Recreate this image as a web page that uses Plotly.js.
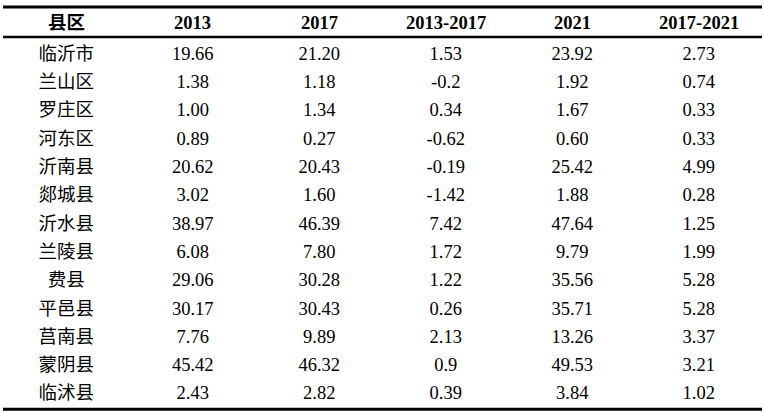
<!DOCTYPE html>
<html>
<head>
<meta charset="utf-8">
<script src="https://cdn.plot.ly/plotly-3.0.1.min.js"></script>
<style>html,body{margin:0;padding:0;background:#fff;}#chart{width:764px;height:412px;}</style>
</head>
<body>
<div id="chart"></div>
<script>
const headers = ['县区', '2013', '2017', '2013-2017', '2021', '2017-2021'];
const regions = ['临沂市', '兰山区', '罗庄区', '河东区', '沂南县', '郯城县', '沂水县', '兰陵县', '费县', '平邑县', '莒南县', '蒙阴县', '临沭县'];
const v2013 = [19.66, 1.38, 1.00, 0.89, 20.62, 3.02, 38.97, 6.08, 29.06, 30.17, 7.76, 45.42, 2.43];
const v2017 = [21.20, 1.18, 1.34, 0.27, 20.43, 1.60, 46.39, 7.80, 30.28, 30.43, 9.89, 46.32, 2.82];
const d2013_2017 = [1.53, -0.2, 0.34, -0.62, -0.19, -1.42, 7.42, 1.72, 1.22, 0.26, 2.13, 0.9, 0.39];
const v2021 = [23.92, 1.92, 1.67, 0.60, 25.42, 1.88, 47.64, 9.79, 35.56, 35.71, 13.26, 49.53, 3.84];
const d2017_2021 = [2.73, 0.74, 0.33, 0.33, 4.99, 0.28, 1.25, 1.99, 5.28, 5.28, 3.37, 3.21, 1.02];

const FONT = 'Liberation Serif, Times New Roman, Noto Sans CJK SC, serif';
const FS = 18.5;
const fix2 = v => v.toFixed(2);
const plain = v => String(v);

const columns = [
  regions,
  v2013.map(fix2),
  v2017.map(fix2),
  d2013_2017.map(plain),
  v2021.map(fix2),
  d2017_2021.map(fix2)
];

const traces = columns.map((texts, j) => ({
  type: 'scatter',
  mode: 'text',
  x: regions.map(() => headers[j]),
  y: regions,
  text: texts,
  textposition: 'middle center',
  textfont: {family: FONT, size: FS, color: '#000'},
  hoverinfo: 'skip',
  showlegend: false,
  cliponaxis: false
}));

const annotations = headers.map((h, j) => ({
  x: j, xref: 'x',
  y: 1.0488, yref: 'paper',
  yanchor: 'middle', xanchor: 'center',
  text: '<b>' + h + '</b>',
  showarrow: false,
  font: {family: FONT, size: FS, color: '#000'}
}));

const rule = (y, w) => ({
  type: 'line', xref: 'paper', yref: 'paper',
  x0: 0, x1: 1, y0: y, y1: y,
  line: {color: '#000', width: w}
});

const layout = {
  width: 764, height: 412,
  margin: {l: 3, r: 2, t: 40.5, b: 2.5, pad: 0},
  paper_bgcolor: '#fff', plot_bgcolor: '#fff',
  xaxis: {
    type: 'category', categoryorder: 'array', categoryarray: headers,
    range: [-0.5, headers.length - 0.5],
    showgrid: false, zeroline: false, showline: false, showticklabels: false, ticks: '', fixedrange: true
  },
  yaxis: {
    type: 'category', categoryorder: 'array', categoryarray: regions,
    range: [regions.length - 0.5, -0.5],
    showgrid: false, zeroline: false, showline: false, showticklabels: false, ticks: '', fixedrange: true
  },
  annotations: annotations,
  shapes: [rule(1.0921, 3), rule(1.0106, 2.5), rule(-0.0005, 3)],
  showlegend: false
};

Plotly.newPlot('chart', traces, layout, {displayModeBar: false, staticPlot: true});
</script>
</body>
</html>
